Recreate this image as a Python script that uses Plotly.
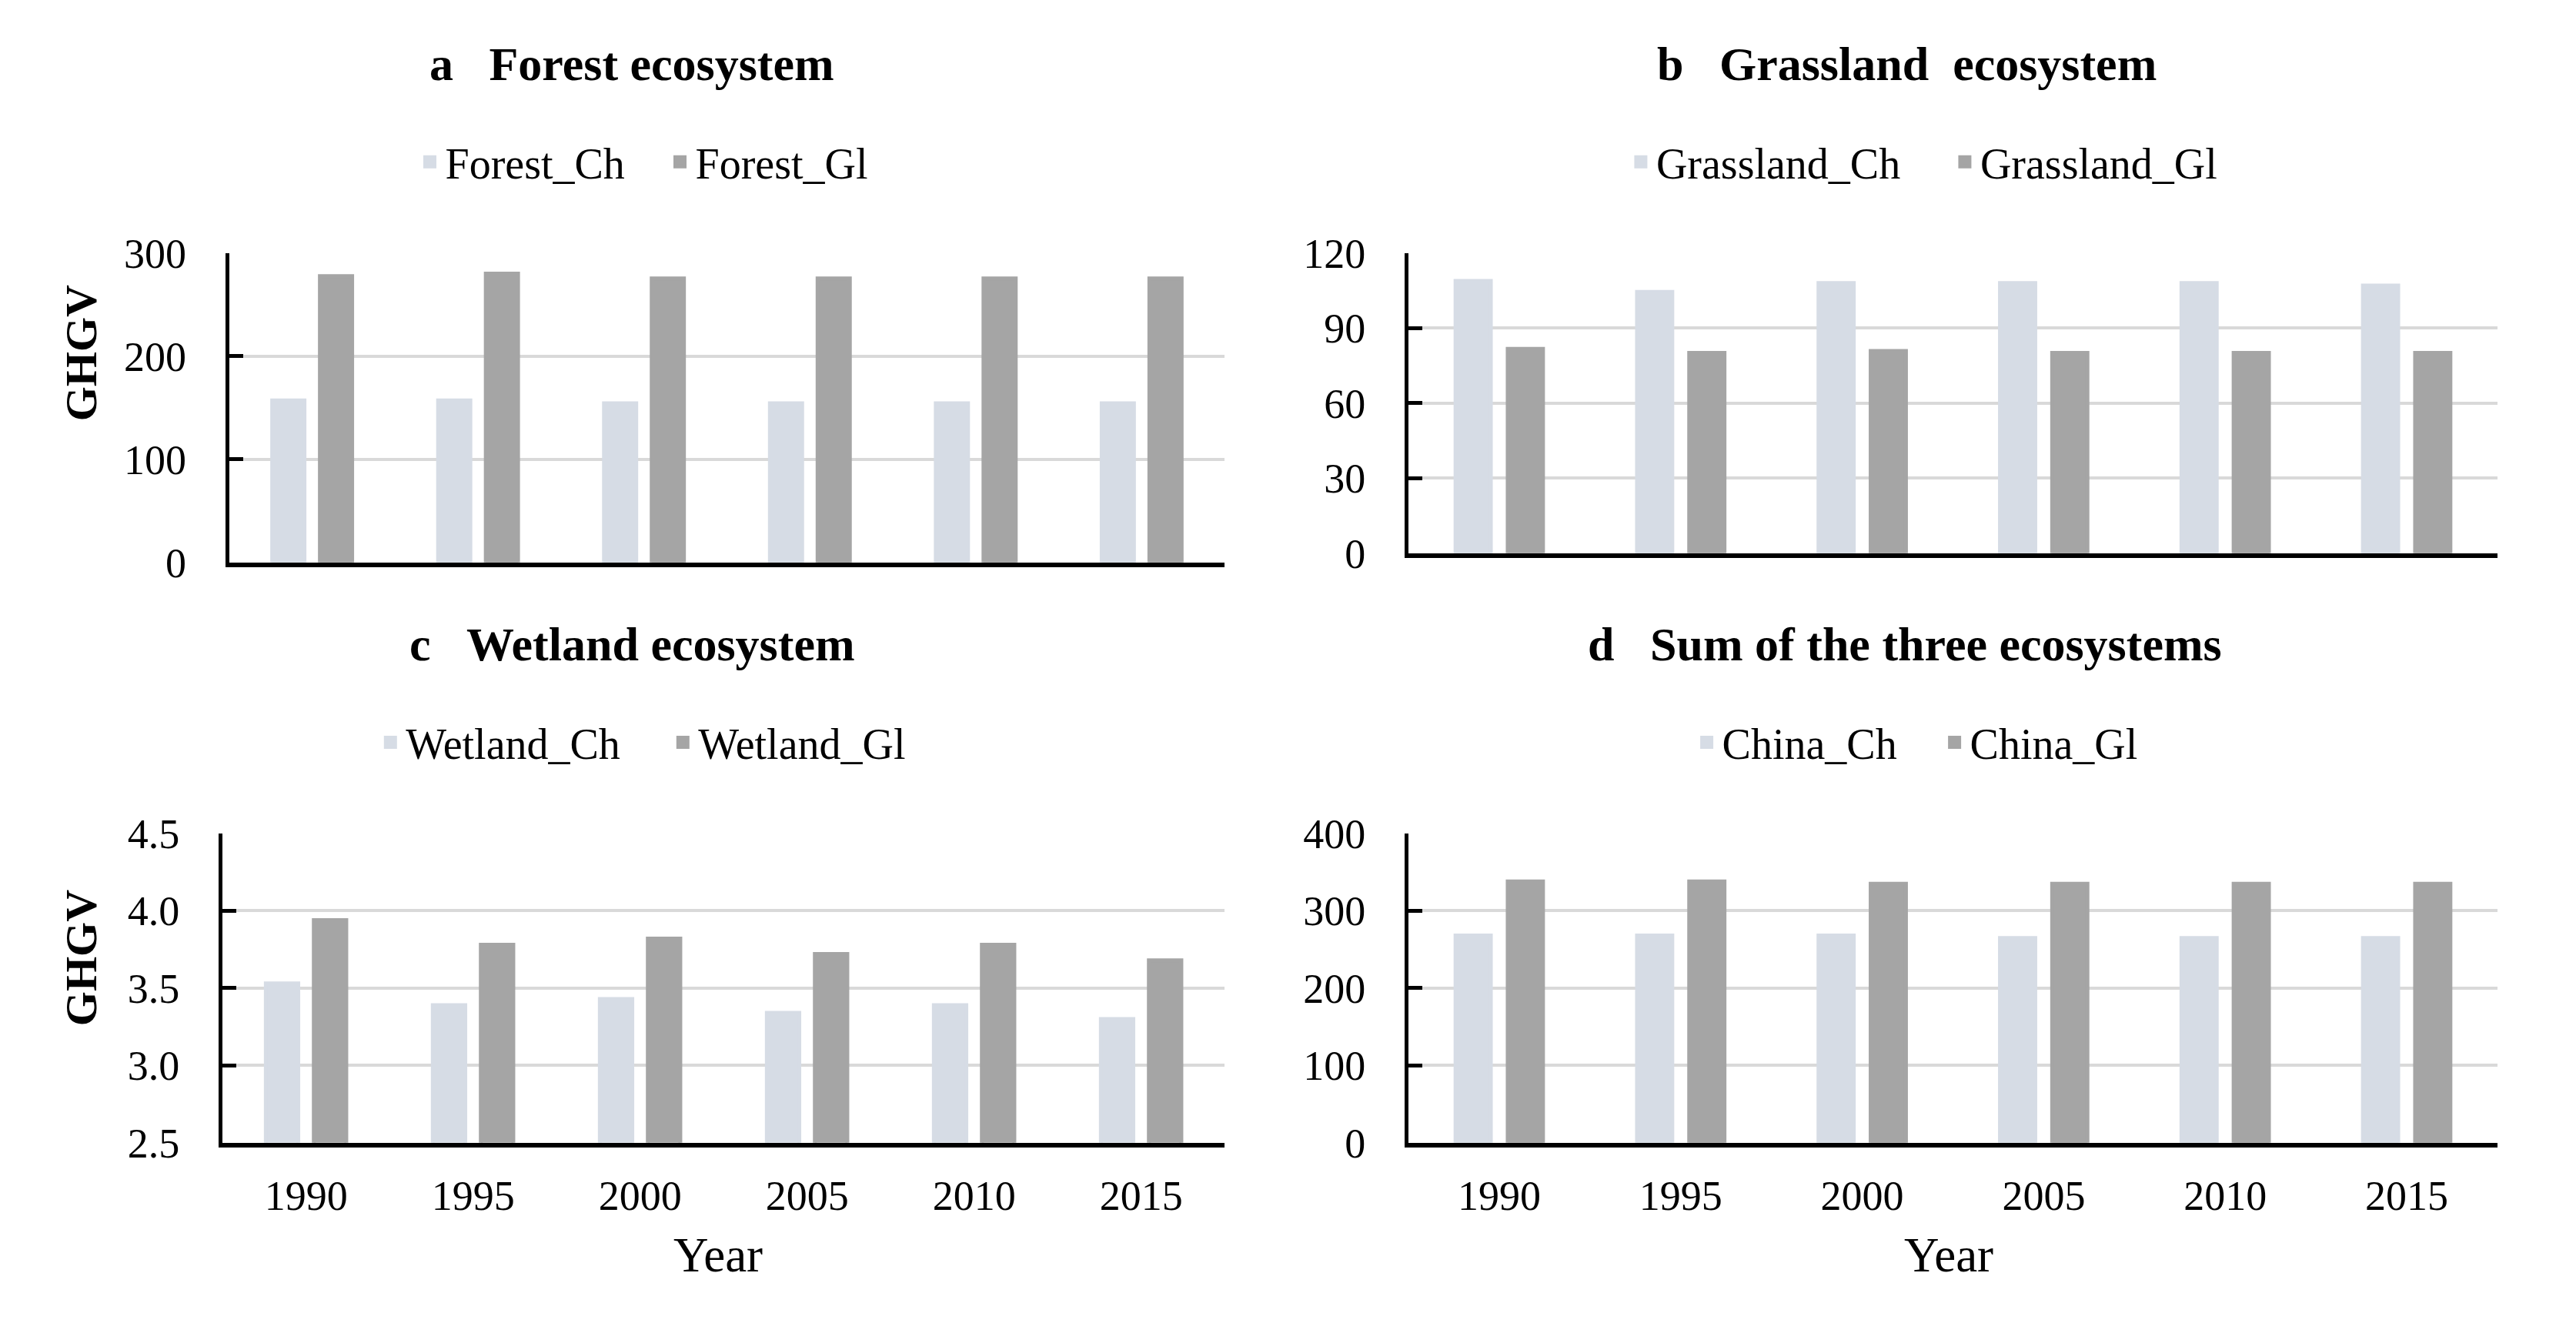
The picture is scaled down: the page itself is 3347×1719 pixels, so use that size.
import plotly.graph_objects as go

years = ["1990", "1995", "2000", "2005", "2010", "2015"]

forest_ch = [157.1, 157.1, 154.3, 154.3, 154.3, 154.3]
forest_gl = [277.6, 280.0, 275.5, 275.5, 275.5, 275.5]

grass_ch = [108.9, 104.5, 108.0, 108.0, 108.0, 107.0]
grass_gl = [81.7, 80.1, 80.9, 80.1, 80.1, 80.1]

wet_ch = [3.53, 3.39, 3.43, 3.34, 3.39, 3.30]
wet_gl = [3.94, 3.78, 3.82, 3.72, 3.78, 3.68]

china_ch = [267.9, 267.9, 267.9, 264.7, 264.7, 264.7]
china_gl = [338.0, 338.0, 334.8, 334.8, 334.8, 334.8]

panel_titles = ["a\u00a0\u00a0\u00a0Forest ecosystem",
                "b\u00a0\u00a0\u00a0Grassland\u00a0\u00a0ecosystem",
                "c\u00a0\u00a0\u00a0Wetland ecosystem",
                "d\u00a0\u00a0\u00a0Sum of the three ecosystems"]

series = [
    ("Forest_Ch", forest_ch, "Forest_Gl", forest_gl),
    ("Grassland_Ch", grass_ch, "Grassland_Gl", grass_gl),
    ("Wetland_Ch", wet_ch, "Wetland_Gl", wet_gl),
    ("China_Ch", china_ch, "China_Gl", china_gl),
]

y_ranges = [[0, 300], [0, 120], [2.5, 4.5], [0, 400]]
y_dticks = [100, 30, 0.5, 100]

C_CH = "#D6DCE5"
C_GL = "#A5A5A5"
FONT = "Liberation Serif"

fig = go.Figure()
legend_names = ["legend", "legend2", "legend3", "legend4"]
for i, (n1, v1, n2, v2) in enumerate(series):
    suf = "" if i == 0 else str(i + 1)
    fig.add_trace(go.Bar(x=years, y=v1, name=n1, xaxis="x" + suf, yaxis="y" + suf,
                         marker=dict(color=C_CH, line=dict(color=C_CH, width=5)),
                         legend=legend_names[i]))
    fig.add_trace(go.Bar(x=years, y=v2, name=n2, xaxis="x" + suf, yaxis="y" + suf,
                         marker=dict(color=C_GL, line=dict(color=C_GL, width=5)),
                         legend=legend_names[i]))

x_domains = [[0.0866, 0.4730], [0.5444, 0.9671], [0.0840, 0.4730], [0.5444, 0.9671]]
y_domains = [[0.5819, 0.8241], [0.5890, 0.8241], [0.1273, 0.3696], [0.1273, 0.3696]]

layout = dict(
    width=3347, height=1719,
    margin=dict(l=0, r=0, t=0, b=0),
    paper_bgcolor="white", plot_bgcolor="white",
    barmode="group", bargap=0.425, bargroupgap=0.323,
    font=dict(family=FONT, color="black", size=54),
)

for i in range(4):
    suf = "" if i == 0 else str(i + 1)
    layout["xaxis" + suf] = dict(
        domain=x_domains[i], anchor="y" + suf, type="category",
        showline=True, linecolor="black", linewidth=6,
        ticks="", showgrid=False, zeroline=False,
        showticklabels=(i >= 2), tickfont=dict(family=FONT, size=54, color="black"),
        ticklabelstandoff=16,
    )
    layout["yaxis" + suf] = dict(
        domain=y_domains[i], anchor="x" + suf, range=y_ranges[i], dtick=y_dticks[i],
        tick0=y_ranges[i][0],
        showgrid=True, gridcolor="#D9D9D9", gridwidth=4,
        showline=True, linecolor="black", linewidth=5,
        ticks="inside", ticklen=18, tickwidth=5, tickcolor="black",
        zeroline=False, tickfont=dict(family=FONT, size=54, color="black"),
        ticklabelstandoff=40,
        tickformat=".1f" if i == 2 else "d",
    )

legend_x = [0.1585, 0.6286, 0.1432, 0.6542]
legend_y = [0.8955, 0.8955, 0.4409, 0.4409]
entry_w = [280, 376, 335, 277]
for i, name in enumerate(legend_names):
    layout[name] = dict(
        x=legend_x[i], y=legend_y[i], xanchor="left", yanchor="middle",
        orientation="h", bgcolor="rgba(0,0,0,0)",
        entrywidth=entry_w[i], entrywidthmode="pixels",
        font=dict(family=FONT, size=56, color="black"),
        itemclick=False, itemdoubleclick=False,
    )

title_pos = [(0.243, 0.9722), (0.7378, 0.9722), (0.243, 0.5177), (0.7372, 0.5177)]
annotations = []
for i, t in enumerate(panel_titles):
    annotations.append(dict(text=t, x=title_pos[i][0], y=title_pos[i][1],
                            xref="paper", yref="paper", showarrow=False,
                            xanchor="center", yanchor="middle",
                            font=dict(family=FONT, size=62, color="black", weight="bold")))
for yy in [0.7455, 0.2718]:
    annotations.append(dict(text="GHGV", x=0.029, y=yy, xref="paper", yref="paper",
                            showarrow=False, textangle=-90, xanchor="center", yanchor="middle",
                            font=dict(family=FONT, size=58, color="black", weight="bold")))
for xx in [0.2763, 0.754]:
    annotations.append(dict(text="Year", x=xx, y=0.0392, xref="paper", yref="paper",
                            showarrow=False, xanchor="center", yanchor="middle",
                            font=dict(family=FONT, size=63, color="black")))
layout["annotations"] = annotations

fig.update_layout(**layout)
fig.write_html("out.html")
